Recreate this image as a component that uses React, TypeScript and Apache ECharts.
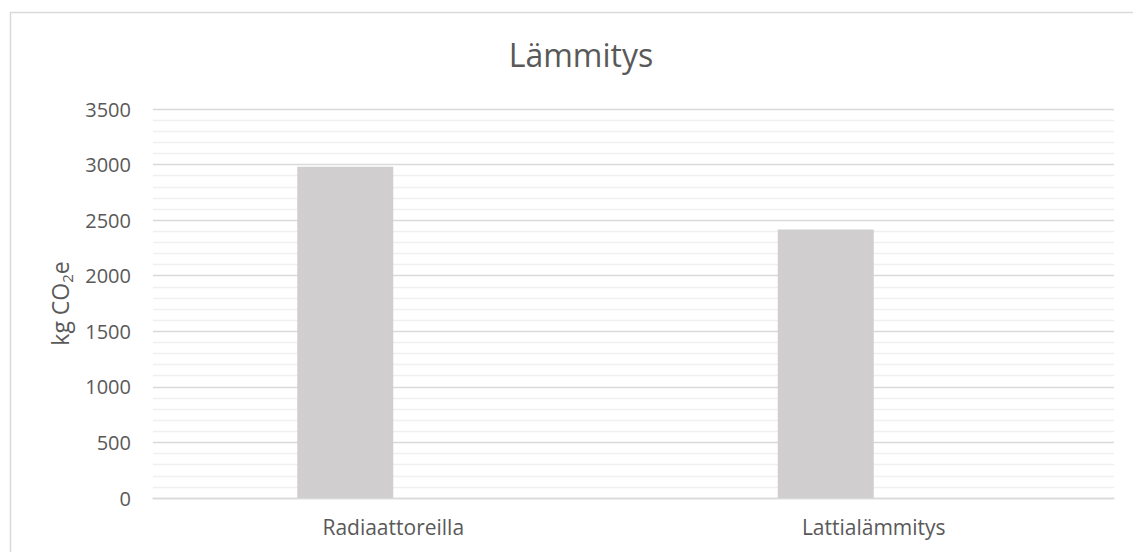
import React, { useEffect, useRef } from "react";
import * as echarts from "echarts";

// Heating-related emissions by heating type
const categories = ["Radiaattoreilla", "Lattialämmitys"];
const emissions = [2980, 2415];
const chartTitle = "Lämmitys";
const yMin = 0;
const yMax = 3500;
const yStep = 500;

const FONT = "'Open Sans', 'Noto Sans', sans-serif";
const TEXT = "#595959";

export default function App() {
  const ref = useRef<HTMLDivElement>(null);

  useEffect(() => {
    if (!ref.current) return;
    const chart = echarts.init(ref.current, undefined, { renderer: "svg" });
    chart.setOption({
      animation: false,
      backgroundColor: "#ffffff",
      textStyle: { fontFamily: FONT, color: TEXT },
      title: {
        text: chartTitle,
        left: 568,
        top: 25,
        textAlign: "center",
        textStyle: { fontFamily: FONT, fontSize: 32, fontWeight: "normal", color: TEXT },
      },
      graphic: [
        {
          type: "rect",
          left: 0,
          top: 2,
          shape: { x: 0, y: 0, width: 1124, height: 600 },
          style: { fill: "none", stroke: "#d9d9d9", lineWidth: 1.5 },
          silent: true,
        },
      ],
      grid: { left: 145, right: 19, top: 101, bottom: 54, containLabel: false },
      xAxis: {
        type: "category",
        data: categories,
        axisLine: { show: true, lineStyle: { color: "#d9d9d9", width: 1.3 } },
        axisTick: { show: false },
        axisLabel: { color: TEXT, fontFamily: FONT, fontSize: 21, margin: 18 },
        splitLine: { show: false },
      },
      yAxis: {
        type: "value",
        min: yMin,
        max: yMax,
        interval: yStep,
        name: "{a|kg CO}{s|2}{a|e}",
        nameLocation: "middle",
        nameRotate: 90,
        nameGap: 78,
        nameTextStyle: {
          rich: {
            a: { fontFamily: FONT, fontSize: 23, color: TEXT },
            s: { fontFamily: FONT, fontSize: 15, color: TEXT, padding: [14, 0, 0, 0] },
          },
        },
        axisLine: { show: false },
        axisTick: { show: false },
        axisLabel: {
          color: TEXT,
          fontFamily: FONT,
          fontSize: 20,
          margin: 22,
          formatter: (v: number) => String(v),
        },
        splitLine: { show: true, lineStyle: { color: "#d9d9d9", width: 1.3 } },
        minorTick: { show: false, splitNumber: 5 },
        minorSplitLine: { show: true, lineStyle: { color: "#f0f0f0", width: 1.3 } },
      },
      series: [
        {
          type: "bar",
          data: emissions,
          barWidth: 96,
          barGap: "0%",
          itemStyle: { color: "#d0cece" },
        },
        {
          type: "bar",
          data: categories.map(() => null),
          barWidth: 96,
          barGap: "0%",
        },
      ],
    });
    return () => chart.dispose();
  }, []);

  return <div ref={ref} style={{ width: 1125, height: 544 }} />;
}
